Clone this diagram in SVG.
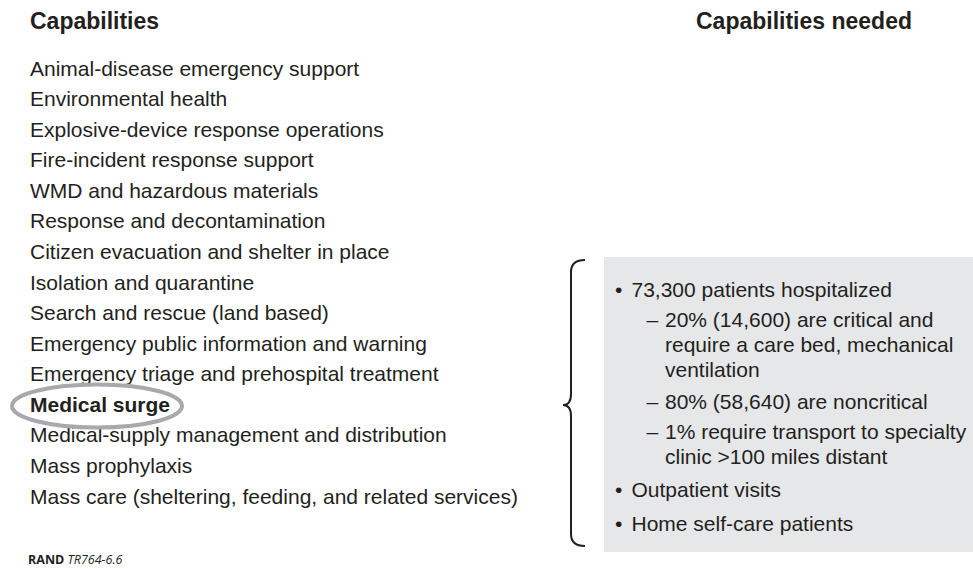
<svg xmlns="http://www.w3.org/2000/svg" width="973" height="569" viewBox="0 0 973 569">
<style>
.h{font-family:"Liberation Sans",Arial,sans-serif;font-weight:bold;font-size:23px;fill:#231f20}
.t{font-family:"Liberation Sans",Arial,sans-serif;font-size:21px;fill:#231f20}
.b{font-weight:bold}
.f{font-family:"Open Sans","Liberation Sans",sans-serif;font-size:12.5px;fill:#231f20}
</style>
<rect width="973" height="569" fill="#ffffff"/>
<g id="headers">
<text class="h" x="30" y="29">Capabilities</text>
<text class="h" x="912" y="29" text-anchor="end">Capabilities needed</text>
</g>
<g id="capabilities-list">
<text class="t" x="30" y="75.5">Animal-disease emergency support</text>
<text class="t" x="30" y="106">Environmental health</text>
<text class="t" x="30" y="136.6">Explosive-device response operations</text>
<text class="t" x="30" y="167.2">Fire-incident response support</text>
<text class="t" x="30" y="197.8">WMD and hazardous materials</text>
<text class="t" x="30" y="228.3">Response and decontamination</text>
<text class="t" x="30" y="258.9">Citizen evacuation and shelter in place</text>
<text class="t" x="30" y="289.5">Isolation and quarantine</text>
<text class="t" x="30" y="320">Search and rescue (land based)</text>
<text class="t" x="30" y="350.6">Emergency public information and warning</text>
<text class="t" x="30" y="381.2">Emergency triage and prehospital treatment</text>
<text class="t" x="30" y="442.4">Medical-supply management and distribution</text>
<text class="t" x="30" y="472.9">Mass prophylaxis</text>
<text class="t" x="30" y="503.5">Mass care (sheltering, feeding, and related services)</text>
</g>
<g id="medical-surge">
<ellipse cx="97" cy="406" rx="85" ry="21.5" fill="none" stroke="#a7a9ac" stroke-width="4"/>
<text class="t b" x="30" y="411.8">Medical surge</text>
</g>
<g id="connectors">
<path d="M585,260 Q571,260 571,272 L571,394 Q571,405 563,405 Q571,405 571,416 L571,534 Q571,546 585,546" fill="none" stroke="#231f20" stroke-width="2"/>
</g>
<g id="capabilities-needed">
<rect x="604" y="257" width="369" height="295" fill="#e6e7e8"/>
<text class="t" x="615" y="297">•</text>
<text class="t" x="631.5" y="297">73,300 patients hospitalized</text>
<text class="t" x="646.5" y="327">–</text>
<text class="t" x="665" y="327">20% (14,600) are critical and</text>
<text class="t" x="665" y="352">require a care bed, mechanical</text>
<text class="t" x="665" y="377">ventilation</text>
<text class="t" x="646.5" y="409">–</text>
<text class="t" x="665" y="409">80% (58,640) are noncritical</text>
<text class="t" x="646.5" y="439">–</text>
<text class="t" x="665" y="439">1% require transport to specialty</text>
<text class="t" x="665" y="464">clinic &gt;100 miles distant</text>
<text class="t" x="615" y="497">•</text>
<text class="t" x="631.5" y="497">Outpatient visits</text>
<text class="t" x="615" y="531">•</text>
<text class="t" x="631.5" y="531">Home self-care patients</text>
</g>
<g id="footer">
<text class="f" x="28" y="564"><tspan font-weight="bold">RAND</tspan> <tspan font-style="italic">TR764-6.6</tspan></text>
</g>
</svg>
